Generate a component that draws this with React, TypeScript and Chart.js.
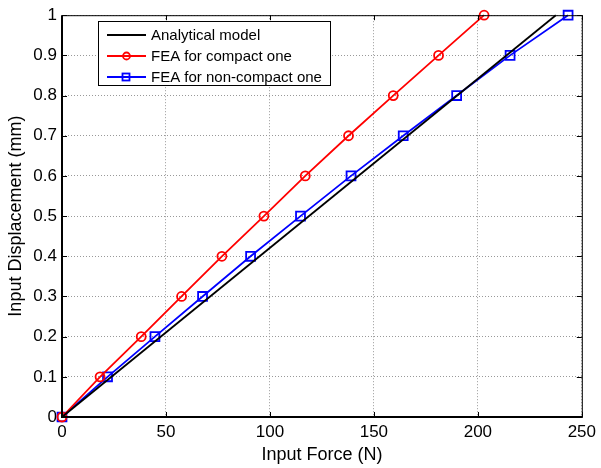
import React, { useEffect, useRef } from "react";
import { Chart, registerables } from "chart.js";

Chart.register(...registerables);

const displacement = [0, 0.1, 0.2, 0.3, 0.4, 0.5, 0.6, 0.7, 0.8, 0.9, 1.0];
const forceCompact = [0, 18.3, 38.1, 57.5, 76.9, 97.1, 117, 137.8, 159.3, 181.1, 203];
const forceNonCompact = [0, 21.9, 44.7, 67.6, 90.7, 114.7, 139, 164.1, 189.8, 215.5, 243.4];
const analyticalForce = [0, 237.5];
const analyticalDisp = [0, 1];
const xTicks = [0, 50, 100, 150, 200, 250];
const yTicks = [0, 0.1, 0.2, 0.3, 0.4, 0.5, 0.6, 0.7, 0.8, 0.9, 1];
const seriesNames = ["Analytical model", "FEA for compact one", "FEA for non-compact one"];
const xTitle = "Input Force (N)";
const yTitle = "Input Displacement (mm)";

const FONT = '"Liberation Sans", Arial, sans-serif';

const matlabPlugin = {
  id: "matlabDecor",
  afterDatasetsDraw(chart: any) {
    const ctx = chart.ctx;
    const bx = 98.5, by = 21.5, bw = 232, bh = 64;
    ctx.save();
    ctx.fillStyle = "#fff";
    ctx.fillRect(bx, by, bw, bh);
    ctx.strokeStyle = "#000";
    ctx.lineWidth = 1;
    ctx.strokeRect(bx, by, bw, bh);
    const rows = [35, 56, 77];
    const colors = ["#000", "#ff0000", "#0000ff"];
    ctx.font = "15px " + FONT;
    ctx.textBaseline = "middle";
    ctx.textAlign = "left";
    for (let i = 0; i < 3; i++) {
      const y = rows[i];
      ctx.strokeStyle = colors[i];
      ctx.lineWidth = 1.8;
      ctx.beginPath();
      ctx.moveTo(107, y);
      ctx.lineTo(146, y);
      ctx.stroke();
      if (i === 1) {
        ctx.beginPath();
        ctx.arc(126.5, y, 3.5, 0, Math.PI * 2);
        ctx.stroke();
      } else if (i === 2) {
        ctx.strokeRect(122.5, y - 3.5, 7, 7);
      }
      ctx.fillStyle = "#000";
      ctx.fillText(seriesNames[i], 151, y + 1);
    }
    ctx.restore();
  },
  afterDraw(chart: any) {
    const ctx = chart.ctx;
    const a = chart.chartArea;
    const xs = chart.scales.x;
    const ys = chart.scales.y;
    ctx.save();
    ctx.strokeStyle = "#000";
    ctx.lineWidth = 1;
    ctx.beginPath();
    for (const t of xTicks) {
      const px = Math.round(xs.getPixelForValue(t)) + 0.5;
      ctx.moveTo(px, a.bottom);
      ctx.lineTo(px, a.bottom - 5);
      ctx.moveTo(px, a.top);
      ctx.lineTo(px, a.top + 5);
    }
    for (const t of yTicks) {
      const py = Math.round(ys.getPixelForValue(t)) + 0.5;
      ctx.moveTo(a.left, py);
      ctx.lineTo(a.left + 5, py);
      ctx.moveTo(a.right, py);
      ctx.lineTo(a.right - 5, py);
    }
    ctx.stroke();
    ctx.lineWidth = 1;
    ctx.beginPath();
    ctx.moveTo(a.left, a.top + 0.5);
    ctx.lineTo(a.right + 0.5, a.top + 0.5);
    ctx.lineTo(a.right + 0.5, a.bottom);
    ctx.stroke();
    ctx.lineWidth = 2;
    ctx.beginPath();
    ctx.moveTo(a.left, a.top);
    ctx.lineTo(a.left, a.bottom);
    ctx.lineTo(a.right + 1, a.bottom);
    ctx.stroke();
    ctx.fillStyle = "#000";
    ctx.font = "18px " + FONT;
    ctx.textAlign = "center";
    ctx.textBaseline = "middle";
    ctx.fillText(xTitle, (a.left + a.right) / 2, 455);
    ctx.translate(16, (a.top + a.bottom) / 2);
    ctx.rotate(-Math.PI / 2);
    ctx.fillText(yTitle, 0, 0);
    ctx.restore();
  },
};

export default function App() {
  const ref = useRef<HTMLCanvasElement | null>(null);
  useEffect(() => {
    if (!ref.current) return;
    const chart = new Chart(ref.current, {
      type: "line",
      data: {
        datasets: [
          {
            label: seriesNames[0],
            data: analyticalForce.map((x, i) => ({ x, y: analyticalDisp[i] })),
            borderColor: "#000",
            borderWidth: 1.8,
            pointRadius: 0,
            clip: false as any,
          },
          {
            label: seriesNames[1],
            data: forceCompact.map((x, i) => ({ x, y: displacement[i] })),
            borderColor: "#ff0000",
            borderWidth: 1.8,
            pointStyle: "circle",
            pointRadius: 4.5,
            pointBorderWidth: 1.8,
            pointBackgroundColor: "rgba(0,0,0,0)",
            pointBorderColor: "#ff0000",
            clip: false as any,
          },
          {
            label: seriesNames[2],
            data: forceNonCompact.map((x, i) => ({ x, y: displacement[i] })),
            borderColor: "#0000ff",
            borderWidth: 1.8,
            pointStyle: "rect",
            pointRadius: 6.3,
            pointBorderWidth: 1.8,
            pointBackgroundColor: "rgba(0,0,0,0)",
            pointBorderColor: "#0000ff",
            clip: false as any,
          },
        ],
      },
      options: {
        animation: false,
        responsive: false,
        layout: { padding: { top: 11, right: 19, left: 0, bottom: 0 } },
        plugins: { legend: { display: false }, tooltip: { enabled: false } },
        scales: {
          x: {
            type: "linear",
            min: 0,
            max: 250,
            afterFit: (s: any) => { s.height = 51; },
            afterBuildTicks: (s: any) => { s.ticks = xTicks.map((v) => ({ value: v })); },
            ticks: { color: "#000", font: { family: FONT, size: 17 }, padding: 5, maxRotation: 0 },
            grid: { color: "#999999", drawTicks: false, lineWidth: 1 },
            border: { display: false, dash: [1, 2] },
          },
          y: {
            type: "linear",
            min: 0,
            max: 1,
            afterFit: (s: any) => { s.width = 62; },
            afterBuildTicks: (s: any) => { s.ticks = yTicks.map((v) => ({ value: v })); },
            ticks: {
              color: "#000",
              font: { family: FONT, size: 17 },
              padding: 5,
              callback: (v: any) => String(Math.round(Number(v) * 10) / 10),
            },
            grid: { color: "#999999", drawTicks: false, lineWidth: 1 },
            border: { display: false, dash: [1, 2] },
          },
        },
      },
      plugins: [matlabPlugin],
    });
    return () => chart.destroy();
  }, []);
  return (
    <div style={{ position: "fixed", left: 0, top: 0, width: 601, height: 468, background: "#fff" }}>
      <canvas ref={ref} width={601} height={468} style={{ width: 601, height: 468 }} />
    </div>
  );
}
